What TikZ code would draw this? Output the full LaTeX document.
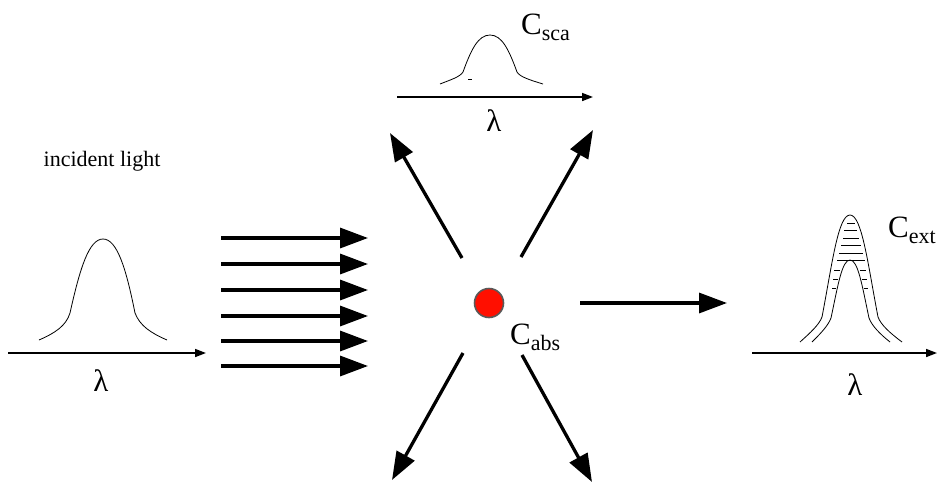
\documentclass[tikz,border=0pt]{standalone}
\usepackage{fontspec}
\setmainfont{Liberation Serif}
\usetikzlibrary{arrows.meta}

% cross section label: C with a subscript
\newcommand{\csect}[1]{C\raisebox{-0.22em}{\fontsize{22}{22}\selectfont #1}}

\tikzset{
  beam/.style={line width=3.3pt,-{Triangle[length=28pt,width=20pt]}},
  axis/.style={line width=1.6pt,-{Triangle[length=11pt,width=8pt]}},
  bell/.style={line width=0.8pt},
  hatch/.style={line width=0.8pt},
  lam/.style={font=\fontsize{31}{31}\selectfont},
  clabel/.style={font=\fontsize{31}{31}\selectfont,anchor=base west,inner sep=0pt}
}

\begin{document}
\begin{tikzpicture}[x=1pt,y=-1pt]

  \useasboundingbox (0,0) rectangle (937,483);

  % Incident spectrum
  \node[font=\fontsize{22}{22}\selectfont] (inclabel) at (102,161) {incident light};
  \coordinate (incL) at (8,353);
  \coordinate (incR) at (206,353);
  \draw[axis] (incL) -- (incR);
  \node[lam] (lamInc) at (101,381) {λ};
  \draw[bell] (39,340) .. controls (55,333) and (66,326) .. (70,313)
    .. controls (80,268) and (89,239) .. (103,239)
    .. controls (117,239) and (126,268) .. (135,313)
    .. controls (140,326) and (151,333) .. (167,340);

  % Beam of parallel rays
  \foreach \yy [count=\i] in {238,264,290,316,341,366}{
    \coordinate (rayA\i) at (221,\yy);
    \coordinate (rayB\i) at (368,\yy);
    \draw[beam] (rayA\i) -- (rayB\i);
  }

  % Particle
  \node[circle,minimum size=29pt,inner sep=0pt,fill=red!88!orange,
        draw=black!65,line width=1.6pt] (particle) at (489,303) {};
  \node[clabel] (cabs) at (510,344) {\csect{abs}};

  % Scattered rays
  \coordinate (ulA) at (462,258); \coordinate (ulB) at (390,133);
  \coordinate (urA) at (521,257); \coordinate (urB) at (593,130);
  \coordinate (llA) at (463,353); \coordinate (llB) at (392,480);
  \coordinate (lrA) at (522,355); \coordinate (lrB) at (592,482);
  \foreach \a/\b in {ulA/ulB,urA/urB,llA/llB,lrA/lrB}{
    \draw[beam] (\a) -- (\b);
  }

  % Transmitted ray
  \coordinate (trA) at (580,303);
  \coordinate (trB) at (727,303);
  \draw[beam] (trA) -- (trB);

  % Scattering spectrum
  \coordinate (scaL) at (397,97);
  \coordinate (scaR) at (593,97);
  \draw[axis] (scaL) -- (scaR);
  \node[lam] (lamSca) at (494,121) {λ};
  \node[clabel] (csca) at (521,34) {\csect{sca}};
  \draw[bell] (440,84) .. controls (450,80) and (460,77) .. (463,72)
    .. controls (471,50) and (478,35) .. (490,35)
    .. controls (502,35) and (509,50) .. (517,72)
    .. controls (520,77) and (530,80) .. (543,84);
  \draw[hatch] (468,79) -- (472,79);

  % Extinction spectrum
  \coordinate (extL) at (752,353);
  \coordinate (extR) at (937,353);
  \draw[axis] (extL) -- (extR);
  \node[lam] (lamExt) at (855,385) {λ};
  \node[clabel] (cext) at (888,237) {\csect{ext}};
  % outer curve
  \draw[bell] (800,342) .. controls (810,333) and (819,325) .. (822,317)
    .. controls (832,265) and (838,215) .. (850,215)
    .. controls (862,215) and (868,265) .. (878,317)
    .. controls (881,325) and (890,333) .. (902,342);
  % inner curve
  \draw[bell] (812,342) .. controls (820,334) and (828,326) .. (831,318)
    .. controls (838,285) and (842,260) .. (850,260)
    .. controls (858,260) and (862,285) .. (869,318)
    .. controls (872,326) and (880,334) .. (890,342);
  % hatching
  \foreach \yy/\xa/\xb in {223/847/855,230/844/857,238/843/859,
                          245/841/861,253/839/863,260/837/865}{
    \draw[hatch] (\xa,\yy) -- (\xb,\yy);
  }
  \foreach \yy/\xa/\xb in {270/834/840,279/833/838,288/832/836}{
    \draw[hatch] (\xa,\yy) -- (\xb,\yy);
    \draw[hatch] (1700-\xb,\yy) -- (1700-\xa,\yy);
  }

\end{tikzpicture}
\end{document}
